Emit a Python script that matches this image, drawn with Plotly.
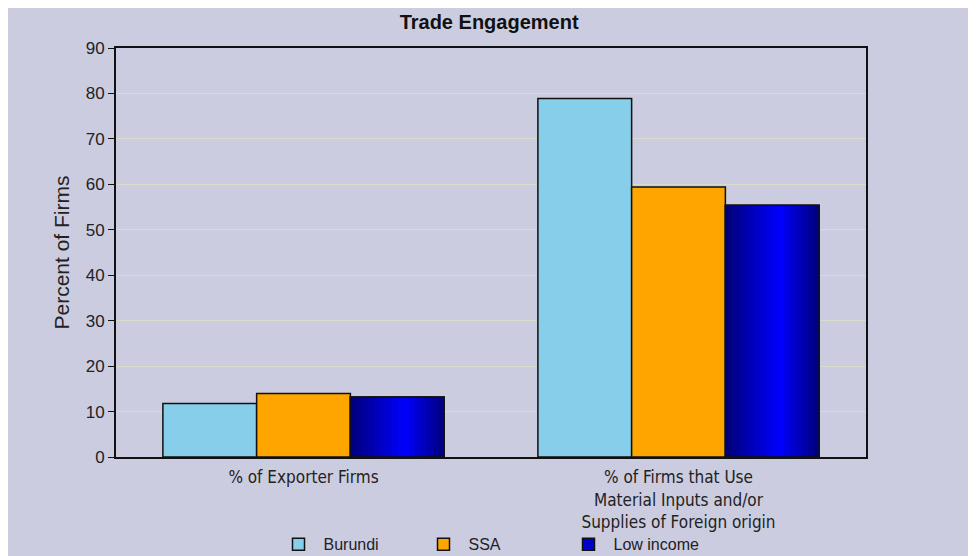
import plotly.graph_objects as go

# chart data
CATEGORIES = ['% of Exporter Firms',
              '% of Firms that Use<br>Material Inputs and/or<br>Supplies of Foreign origin']
BURUNDI = [11.8, 78.9]
SSA = [14.0, 59.4]
LOW_INCOME = [13.2, 55.4]

BG = '#CCCCE0'
FONT = 'Liberation Sans, Arial, sans-serif'
X_POS = [0, 1]
BAR_W = 0.25

fig = go.Figure()

fig.add_trace(go.Bar(x=X_POS, y=BURUNDI, name='Burundi', width=BAR_W, offset=-0.375,
                     marker=dict(color='#87CEEB', line=dict(color='#111111', width=1.5))))
fig.add_trace(go.Bar(x=X_POS, y=SSA, name='SSA', width=BAR_W, offset=-0.125,
                     marker=dict(color='#FFA500', line=dict(color='#111111', width=1.5))))
fig.add_trace(go.Bar(x=X_POS, y=LOW_INCOME, name='Low income', width=BAR_W, offset=0.125,
                     marker=dict(color='#0000CC', line=dict(color='#111111', width=1.5))))

# horizontal gradient on the low income bars: dark navy -> blue -> dark navy
N = 16
for i in range(N):
    t = (i + 0.5) / N
    d = abs(t - 0.58) / 0.58 if t < 0.58 else abs(t - 0.58) / 0.42
    b = int(255 - d * (255 - 120))
    fig.add_trace(go.Bar(x=X_POS, y=LOW_INCOME, width=BAR_W / N,
                         offset=0.125 + i * BAR_W / N, showlegend=False, hoverinfo='skip',
                         marker=dict(color=f'rgb(0,0,{b})', line=dict(width=0))))
fig.add_trace(go.Bar(x=X_POS, y=LOW_INCOME, width=BAR_W, offset=0.125, showlegend=False,
                     hoverinfo='skip',
                     marker=dict(color='rgba(0,0,0,0)', line=dict(color='#111111', width=1.5))))

fig.update_layout(
    width=968, height=548,
    barmode='overlay',
    paper_bgcolor=BG, plot_bgcolor=BG,
    margin=dict(l=108, r=110, t=40, b=99, autoexpand=False),
    title=dict(text='<b>Trade Engagement</b>', x=0.497, xanchor='center', y=0.974, yanchor='middle',
               font=dict(family='Liberation Sans Narrow, Arial Narrow, sans-serif', size=20,
                         color='#111111')),
    font=dict(family=FONT, color='#222222'),
    showlegend=True,
    legend=dict(orientation='h', x=0.5, xanchor='center', y=-0.172, yanchor='top',
                font=dict(size=16, color='#222222'), bgcolor='rgba(0,0,0,0)',
                traceorder='normal', entrywidth=90, itemwidth=40),
)

fig.update_xaxes(
    tickmode='array', tickvals=X_POS, ticktext=CATEGORIES,
    range=[-0.5, 1.5], showgrid=False, ticks='', ticklabelstandoff=4, automargin=False,
    showline=True, linecolor='#111111', linewidth=2, mirror=True,
    tickfont=dict(size=17, family='DejaVu Sans Condensed, Tahoma, sans-serif', color='#222222'),
)
fig.update_yaxes(
    range=[0, 90], dtick=10, ticks='outside', ticklen=6, tickcolor='#111111',
    showgrid=True, gridcolor='#DCDCCC', gridwidth=1, automargin=False,
    showline=True, linecolor='#111111', linewidth=2, mirror=True,
    tickfont=dict(size=17, color='#222222'),
    title=dict(text='Percent of Firms', font=dict(size=21, color='#222222'), standoff=10),
    zeroline=False,
)

fig.write_html('out.html')
